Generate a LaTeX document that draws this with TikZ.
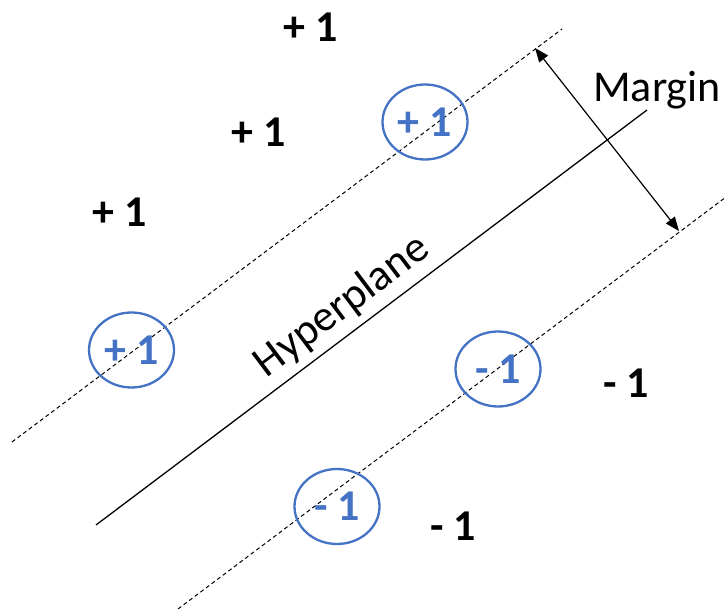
\documentclass[tikz,border=0pt]{standalone}
\usepackage{fontspec}
\setmainfont{Carlito}
\usepackage{tikz}
\usetikzlibrary{arrows.meta,shapes.geometric}
\definecolor{svblue}{HTML}{4472C4}
\tikzset{
  lbl/.style    = {font=\fontsize{44}{48}\selectfont\bfseries, inner sep=0pt, anchor=base},
  svec/.style   = {ellipse, draw=svblue, line width=2.3pt, text=svblue,
                   font=\fontsize{44}{48}\selectfont\bfseries, text depth=0pt,
                   minimum width=85pt, minimum height=75pt, inner sep=0pt},
  bound/.style  = {line width=1pt, dash pattern=on 4pt off 3pt},
  hyper/.style  = {line width=1.3pt},
  vec/.style    = {{Triangle[length=14pt,width=11pt]}-{Triangle[length=14pt,width=11pt]}, line width=1.2pt},
}
\begin{document}
\begin{tikzpicture}[x=1pt,y=-1pt]
  \useasboundingbox (0,0) rectangle (726,609);
  % margin boundaries and hyperplane
  \coordinate (up1) at (12,442);  \coordinate (up2) at (562,29);
  \coordinate (hp1) at (96,525);  \coordinate (hp2) at (647,110);
  \coordinate (lo1) at (178,609); \coordinate (lo2) at (726,197);
  \draw[bound] (up1) -- (up2);
  \draw[hyper] (hp1) -- (hp2);
  \draw[bound] (lo1) -- (lo2);
  \node[font=\fontsize{44}{48}\selectfont, rotate=37, anchor=base, inner sep=0pt]
    (hyp) at (349,316) {Hyperplane};
  % margin arrow
  \coordinate (m1) at (535,48);
  \coordinate (m2) at (679,231);
  \draw[vec] (m1) -- (m2);
  \node[font=\fontsize{44}{48}\selectfont, anchor=base, inner sep=0pt] (margin) at (657,102) {Margin};
  % class labels
  \node[lbl] (p1) at (311,42)  {+ 1};
  \node[lbl] (p2) at (259,147) {+ 1};
  \node[lbl] (p3) at (120,227) {+ 1};
  \node[lbl] (n1) at (626,398) {- 1};
  \node[lbl] (n2) at (453,540) {- 1};
  % support vectors
  \node[svec] (sv1) at (425,122)   {+ 1};
  \node[svec] (sv2) at (131.5,350) {+ 1};
  \node[svec] (sv3) at (498,369)   {- 1};
  \node[svec] (sv4) at (337,506.5) {- 1};
\end{tikzpicture}
\end{document}
